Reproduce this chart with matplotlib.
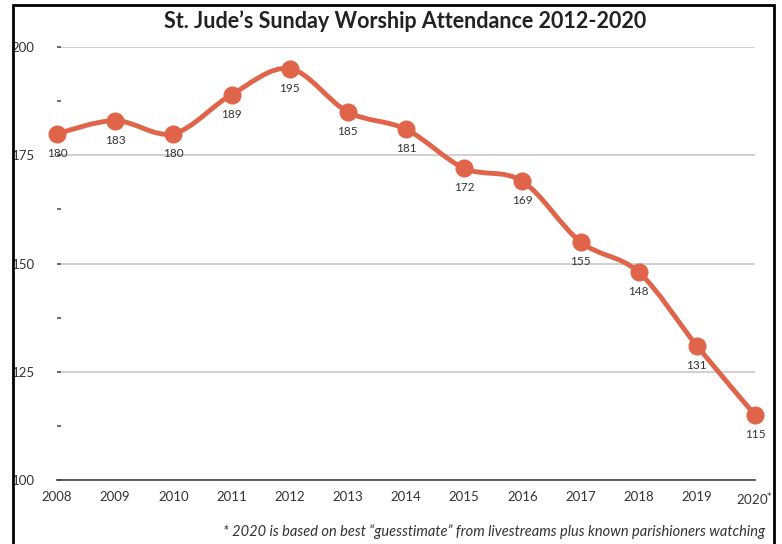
import numpy as np
import matplotlib
matplotlib.use("Agg")
import matplotlib.pyplot as plt
from matplotlib.path import Path
from matplotlib.patches import PathPatch, Rectangle

plt.rcParams["font.family"] = ["Lato", "DejaVu Sans"]

years = np.array([2008, 2009, 2010, 2011, 2012, 2013, 2014,
                  2015, 2016, 2017, 2018, 2019, 2020])
attendance = np.array([180, 183, 180, 189, 195, 185, 181,
                       172, 169, 155, 148, 131, 115])
year_labels = [str(y) for y in years[:-1]] + ["2020$^{*}$"]
yticks = [100, 125, 150, 175, 200]

title = "St. Jude\u2019s Sunday Worship Attendance 2012-2020"
footnote = "* 2020 is based on best \u201cguesstimate\u201d from livestreams plus known parishioners watching"

col = "#e0644a"

fig = plt.figure(figsize=(7.82, 5.44), dpi=100)
ax = fig.add_axes([0.0729, 0.1176, 0.8926, 0.796])

# smooth line through the points (Catmull-Rom as bezier segments)
verts = [(years[0], attendance[0])]
codes = [Path.MOVETO]
n = len(years)
for i in range(n - 1):
    p0 = np.array([years[max(i - 1, 0)], attendance[max(i - 1, 0)]], float)
    p1 = np.array([years[i], attendance[i]], float)
    p2 = np.array([years[i + 1], attendance[i + 1]], float)
    p3 = np.array([years[min(i + 2, n - 1)], attendance[min(i + 2, n - 1)]], float)
    c1 = p1 + (p2 - p0) / 6.0
    c2 = p2 - (p3 - p1) / 6.0
    verts += [tuple(c1), tuple(c2), tuple(p2)]
    codes += [Path.CURVE4] * 3
ax.add_patch(PathPatch(Path(verts, codes), facecolor="none", edgecolor=col,
                       lw=3.5, capstyle="round", joinstyle="round", zorder=3))
ax.plot(years, attendance, "o", color=col, ms=12, zorder=4, clip_on=False)

for x, v in zip(years, attendance):
    ax.annotate(str(v), (x, v), xytext=(0, -14), textcoords="offset points",
                ha="center", va="center", fontsize=8.5, color="#333333")

ax.set_xlim(2008, 2020)
ax.set_ylim(100, 200)
ax.set_yticks(yticks)
ax.set_yticks([112.5, 137.5, 162.5, 187.5], minor=True)
ax.set_xticks(years)
ax.set_xticklabels(year_labels)
ax.yaxis.grid(True, color="#c8c8c8", lw=1.2)
ax.set_axisbelow(True)
for s in ["top", "right", "left"]:
    ax.spines[s].set_visible(False)
ax.spines["bottom"].set_color("#444444")
ax.spines["bottom"].set_linewidth(1.2)
ax.tick_params(axis="x", length=0, pad=8, labelsize=9.5, labelcolor="#333333")
ax.tick_params(axis="y", which="both", direction="in", length=3, width=1.2,
               color="#555555", pad=16, labelsize=9.5, labelcolor="#333333")

fig.text(0.518, 0.962, title, ha="center", va="center", fontsize=15.5,
         fontweight="bold", color="#222222")
fig.text(0.978, 0.022, footnote, ha="right", va="center", fontsize=10.5,
         style="italic", color="#333333")

fig.patches.append(Rectangle((0.016, -0.05), 0.974, 1.04, transform=fig.transFigure,
                             fill=False, lw=2, edgecolor="black"))

fig.savefig("out.png", dpi=100)
